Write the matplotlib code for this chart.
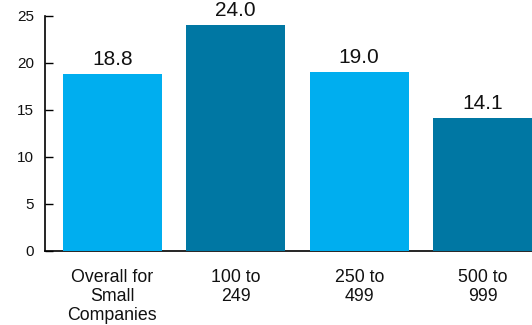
import matplotlib.pyplot as plt

plt.rcParams['font.family'] = ['Liberation Sans', 'DejaVu Sans']

# Average figures by company size
categories = ["Overall for\nSmall\nCompanies", "100 to\n249", "250 to\n499", "500 to\n999"]
values = [18.8, 24.0, 19.0, 14.1]
colors = ["#00AEEF", "#0077A3", "#00AEEF", "#0077A3"]

fig = plt.figure(figsize=(5.32, 3.25), dpi=100)
ax = fig.add_axes([0.0846, 0.229, 0.9154, 0.722])

x = range(len(values))
bars = ax.bar(x, values, width=0.8, color=colors, zorder=3)

for b, v in zip(bars, values):
    ax.annotate(f"{v:.1f}", (b.get_x() + b.get_width() / 2, v),
                xytext=(0, 6.5), textcoords="offset points",
                ha="center", va="baseline", fontsize=15, color="#111111")

ax.set_xlim(-0.546, 3.4)
ax.set_ylim(0, 25)
ax.set_yticks([0, 5, 10, 15, 20, 25])
ax.set_xticks(list(x))
ax.set_xticklabels(categories, fontsize=12.8, color="#111111", linespacing=1.15)

ax.tick_params(axis="y", direction="in", length=6, width=1, pad=8,
               labelsize=11, labelcolor="#111111")
ax.tick_params(axis="x", length=0, pad=13)

for side in ("top", "right"):
    ax.spines[side].set_visible(False)
ax.spines["left"].set_linewidth(1.2)
ax.spines["bottom"].set_linewidth(1.2)

fig.savefig("out.png", dpi=100)
